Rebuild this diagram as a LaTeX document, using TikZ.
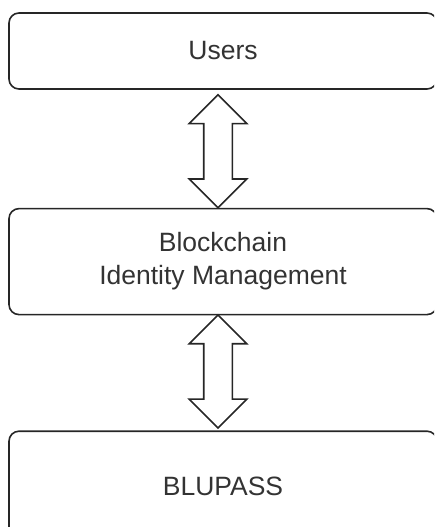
\documentclass[tikz,border=0pt]{standalone}
\usepackage{fontspec}
\setmainfont{Liberation Sans}
\usetikzlibrary{positioning,shapes.arrows,calc}

\begin{document}
\begin{tikzpicture}
			\tikzset{
			  layerbox/.style = { draw = black!85, line width = 1.6pt,
			                      rounded corners = 10pt, minimum width = 428pt,
			                      align = center, text = black!80,
			                      font = \fontsize{26.5}{33}\selectfont },
			  linkarrow/.style = { draw = black!85, line width = 1.6pt,
			                       double arrow, shape border rotate = 90,
			                       minimum height = 113pt, minimum width = 56pt,
			                       double arrow head extend = 14.5pt,
			                       inner sep = 13.5pt, xshift = -5pt } }
			\useasboundingbox (0,0) rectangle (434pt,-527pt);
			\clip (0,0) rectangle (434pt,-527pt);
			\node[layerbox, minimum height = 76pt] (users) at (223pt,-51pt) {Users};
			\node[layerbox, minimum height = 106pt, below = 118pt of users] (idm)
			  {Blockchain\\Identity Management};
			\node[layerbox, minimum height = 110pt, below = 115pt of idm] (blupass) {BLUPASS};
			% double arrows between the layers
			\node[linkarrow, yshift = -2.5pt] (usersidm) at ($(users.south)!0.5!(idm.north)$) {};
			\node[linkarrow, yshift = 1.5pt] (idmblupass) at ($(idm.south)!0.5!(blupass.north)$) {};
		\end{tikzpicture}
\end{document}
